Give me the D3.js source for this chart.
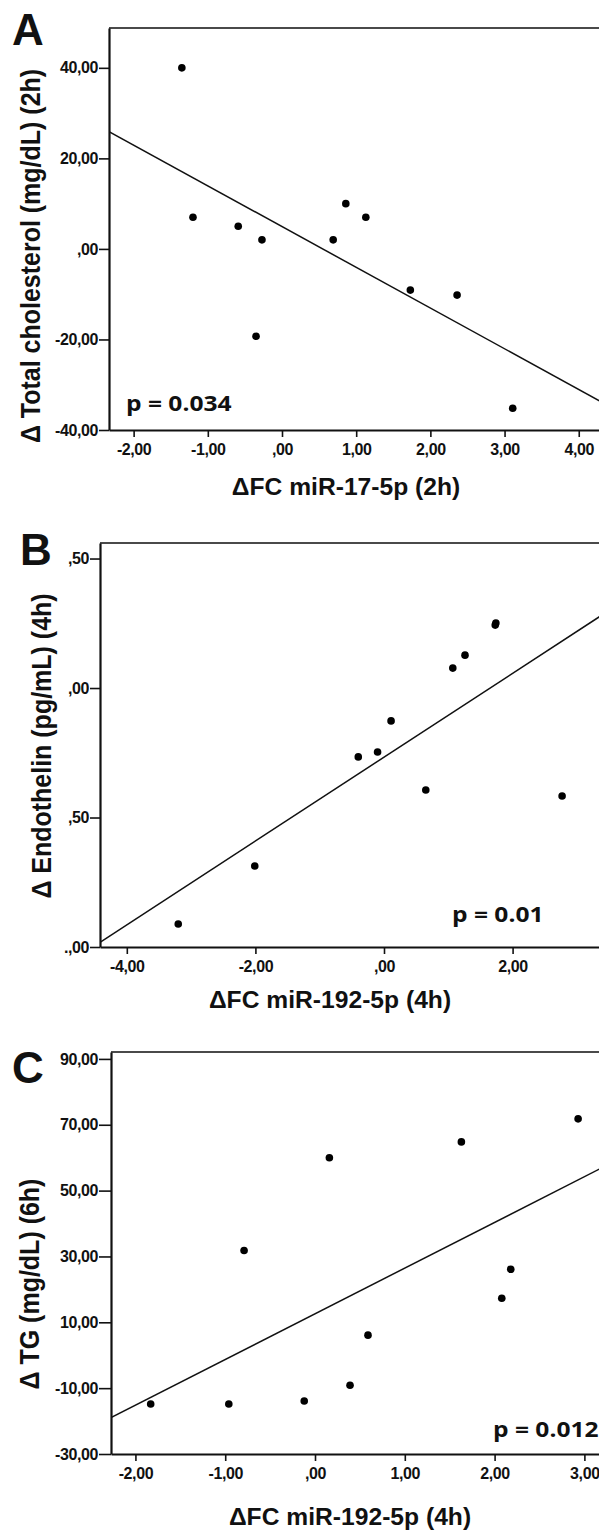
<!DOCTYPE html>
<html>
<head>
<meta charset="utf-8">
<script src="https://cdnjs.cloudflare.com/ajax/libs/d3/7.8.5/d3.min.js"></script>
<style>
  body { margin: 0; background: #fff; }
</style>
</head>
<body>
<div id="chart"></div>
<script>
// A: total cholesterol vs miR-17-5p (2h)
const xA = [-1.35, -1.20, -0.59, -0.27, -0.35, 0.69, 0.86, 1.13, 1.73, 2.36, 3.11];
const yA = [40, 7, 5, 2, -19.3, 2, 10, 7, -9.1, -10.2, -35.2];
const xTicksA = [-2, -1, 0, 1, 2, 3, 4];
const xLabelsA = ['-2,00', '-1,00', ',00', '1,00', '2,00', '3,00', '4,00'];
const yTicksA = [-40, -20, 0, 20, 40];
const yLabelsA = ['-40,00', '-20,00', ',00', '20,00', '40,00'];
const xDomainA = [-2.332, 4.30];
const yDomainA = [-40, 48.8];

// B: endothelin vs miR-192-5p (4h)
const xB = [-3.20, -2.01, -0.40, -0.10, 0.11, 0.65, 2.77, 1.07, 1.26, 1.73, 1.74];
const yB = [0.089, 0.313, 0.734, 0.753, 0.873, 0.606, 0.583, 1.077, 1.127, 1.243, 1.251];
const xTicksB = [-4, -2, 0, 2];
const xLabelsB = ['-4,00', '-2,00', ',00', '2,00'];
const yTicksB = [0, 0.5, 1, 1.5];
const yLabelsB = ['.,00', ',50', ',00', ',50'];
const xDomainB = [-4.417, 3.375];
const yDomainB = [0, 1.56];

// C: TG vs miR-192-5p (4h)
const xC = [-1.83, -0.96, -0.79, -0.12, 0.16, 0.39, 0.59, 1.63, 2.08, 2.18, 2.93];
const yC = [-14.8, -14.8, 31.8, -13.9, 60, -9.1, 6.1, 64.8, 17.3, 26.1, 71.8];
const xTicksC = [-2, -1, 0, 1, 2, 3];
const xLabelsC = ['-2,00', '-1,00', ',00', '1,00', '2,00', '3,00'];
const yTicksC = [-30, -10, 10, 30, 50, 70, 90];
const yLabelsC = ['-30,00', '-10,00', '10,00', '30,00', '50,00', '70,00', '90,00'];
const xDomainC = [-2.272, 3.185];
const yDomainC = [-30, 92.1];

const panels = [
  { id: 'A', xs: xA, ys: yA, xTicks: xTicksA, xLabels: xLabelsA, yTicks: yTicksA, yLabels: yLabelsA,
    xDomain: xDomainA, yDomain: yDomainA, left: 109, right: 601, top: 28, bottom: 430, ytick: 10,
    xTitle: 'ΔFC miR-17-5p (2h)', xTitleX: 346, xTitleY: 495,
    yTitle: 'Δ Total cholesterol (mg/dL) (2h)', yTitleX: 40, yTitleY: 256,
    letterX: 12, letterY: 45, p: 'p = 0.034', pX: 126, pY: 411 },
  { id: 'B', xs: xB, ys: yB, xTicks: xTicksB, xLabels: xLabelsB, yTicks: yTicksB, yLabels: yLabelsB,
    xDomain: xDomainB, yDomain: yDomainB, left: 100, right: 601, top: 543, bottom: 947, ytick: 10,
    xTitle: 'ΔFC miR-192-5p (4h)', xTitleX: 330, xTitleY: 1008,
    yTitle: 'Δ Endothelin (pg/mL) (4h)', yTitleX: 51, yTitleY: 746,
    letterX: 20, letterY: 565, p: 'p = 0.01', pX: 452, pY: 922 },
  { id: 'C', xs: xC, ys: yC, xTicks: xTicksC, xLabels: xLabelsC, yTicks: yTicksC, yLabels: yLabelsC,
    xDomain: xDomainC, yDomain: yDomainC, left: 111, right: 601, top: 1052, bottom: 1454, ytick: 12,
    xTitle: 'ΔFC miR-192-5p (4h)', xTitleX: 350, xTitleY: 1525,
    yTitle: 'Δ TG (mg/dL) (6h)', yTitleX: 39, yTitleY: 1284,
    letterX: 12, letterY: 1083, p: 'p = 0.012', pX: 493, pY: 1437 }
];

const svg = d3.select('#chart').append('svg')
  .attr('width', 599)
  .attr('height', 1533)
  .style('display', 'block');

const labelFont = '"Liberation Sans", Arial, sans-serif';
const calFont = '"Open Sans", sans-serif';

// least squares fit
const fit = (xs, ys) => {
  const mx = d3.mean(xs), my = d3.mean(ys);
  const sxy = d3.sum(xs, (v, i) => (v - mx) * (ys[i] - my));
  const sxx = d3.sum(xs, v => (v - mx) * (v - mx));
  const b = sxy / sxx;
  return { b, a: my - b * mx };
};

panels.forEach(p => {
  const x = d3.scaleLinear().domain(p.xDomain).range([p.left, p.right]);
  const y = d3.scaleLinear().domain(p.yDomain).range([p.bottom, p.top]);
  const g = svg.append('g').attr('id', 'panel' + p.id);

  g.append('clipPath').attr('id', 'clip' + p.id)
    .append('rect')
    .attr('x', p.left).attr('y', p.top)
    .attr('width', p.right - p.left).attr('height', p.bottom - p.top);

  // top frame line
  g.append('line')
    .attr('x1', p.left).attr('x2', p.right)
    .attr('y1', p.top).attr('y2', p.top)
    .attr('stroke', '#4a4a4a').attr('stroke-width', 2);

  // regression line
  const f = fit(p.xs, p.ys);
  g.append('line')
    .attr('clip-path', `url(#clip${p.id})`)
    .attr('x1', x(p.xDomain[0])).attr('y1', y(f.a + f.b * p.xDomain[0]))
    .attr('x2', x(p.xDomain[1])).attr('y2', y(f.a + f.b * p.xDomain[1]))
    .attr('stroke', '#111').attr('stroke-width', 1.5);

  // points
  g.selectAll('circle.dot')
    .data(p.xs.map((v, i) => [v, p.ys[i]]))
    .join('circle')
    .attr('class', 'dot')
    .attr('cx', d => x(d[0]))
    .attr('cy', d => y(d[1]))
    .attr('r', 3.8)
    .attr('fill', '#000');

  // axes
  const xAxis = d3.axisBottom(x)
    .tickValues(p.xTicks)
    .tickFormat((d, i) => p.xLabels[i])
    .tickSize(7).tickSizeOuter(0).tickPadding(7);
  const yAxis = d3.axisLeft(y)
    .tickValues(p.yTicks)
    .tickFormat((d, i) => p.yLabels[i])
    .tickSize(p.ytick).tickSizeOuter(0).tickPadding(1);

  const gx = g.append('g').attr('transform', `translate(0,${p.bottom})`).call(xAxis);
  const gy = g.append('g').attr('transform', `translate(${p.left},0)`).call(yAxis);

  [gx, gy].forEach(ax => {
    ax.select('.domain').attr('stroke', '#111').attr('stroke-width', 2.2);
    ax.selectAll('.tick line').attr('stroke', '#111').attr('stroke-width', 1.6);
    ax.selectAll('.tick text')
      .attr('fill', '#111')
      .style('font-family', labelFont)
      .style('font-weight', 'bold')
      .style('font-size', '16px')
      .style('letter-spacing', '-0.4px');
  });

  // axis titles
  g.append('text')
    .attr('transform', `translate(${p.xTitleX},${p.xTitleY}) scale(1.12,1.05)`)
    .attr('text-anchor', 'middle')
    .style('font-family', labelFont)
    .style('font-weight', 'bold')
    .style('font-size', '22px')
    .attr('fill', '#111')
    .text(p.xTitle);

  g.append('text')
    .attr('transform', `translate(${p.yTitleX},${p.yTitleY}) rotate(-90) scale(1,1.1)`)
    .attr('text-anchor', 'middle')
    .style('font-family', labelFont)
    .style('font-weight', 'bold')
    .style('font-size', '25px')
    .attr('fill', '#111')
    .text(p.yTitle);

  // panel letter
  g.append('text')
    .attr('x', p.letterX).attr('y', p.letterY)
    .style('font-family', labelFont)
    .style('font-weight', 'bold')
    .style('font-size', '44px')
    .attr('fill', '#111')
    .text(p.id);

  // p value
  g.append('text')
    .attr('transform', `translate(${p.pX},${p.pY}) scale(1.17,1)`)
    .style('font-family', calFont)
    .style('font-weight', 'bold')
    .style('font-size', '21px')
    .attr('fill', '#111')
    .text(p.p);
});
</script>
</body>
</html>
